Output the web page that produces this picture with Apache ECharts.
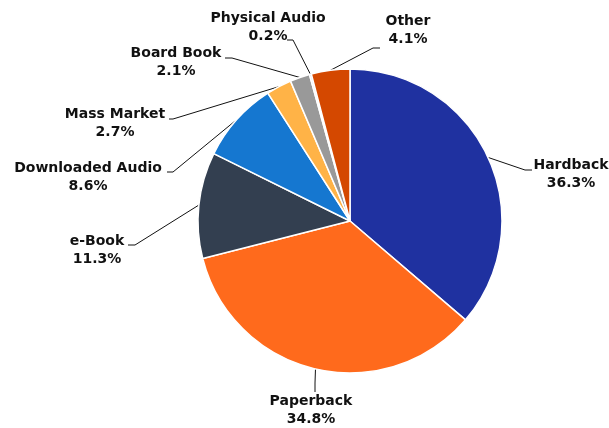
<!DOCTYPE html>
<html><head><meta charset="utf-8">
<script src="https://cdn.jsdelivr.net/npm/echarts@6/dist/echarts.min.js"></script>
<style>html,body{margin:0;padding:0;background:#fff}#c{width:609px;height:428px}</style>
</head><body><div id="c"></div>
<script>
const categories = ["Hardback","Paperback","e-Book","Downloaded Audio","Mass Market","Board Book","Physical Audio","Other"];
const values = [36.3,34.8,11.3,8.6,2.7,2.1,0.2,4.1];
const colors = ["#1f31a0","#ff6a1c","#333f50","#1577d0","#ffb347","#999999","#c9d6f0","#d44800"];
// label layout: [textCenterX, textCenterY, elbowX, elbowY, endX, endY]
const labelLayoutPos = [
  [571,174, 525,170, 532,170],
  [311,410, 315,383, 315,392],
  [97,250, 135,245, 128,245],
  [88,177, 173,172, 167,172],
  [115,123, 173,119, 169,119],
  [176,62, 232,58, 225,58],
  [268,27, 293,40, 287,40],
  [408,30, 373,48, 380,48]
];
const chart = echarts.init(document.getElementById('c'));
chart.setOption({
  animation:false,
  series:[{
    type:'pie',
    center:[350,221],
    radius:[0,152],
    startAngle:90,
    clockwise:true,
    avoidLabelOverlap:false,
    itemStyle:{borderColor:'#fff',borderWidth:1.5},
    label:{
      show:true,
      formatter:p=>'{a|'+p.name+'}\n{a|'+p.value.toFixed(1)+'%}',
      rich:{a:{align:'center',fontFamily:'DejaVu Sans',fontWeight:'bold',fontSize:14,lineHeight:18,color:'#111'}},
      color:'#111'
    },
    labelLine:{show:true,length:20,length2:10,lineStyle:{color:'#111',width:1}},
    labelLayout:function(params){
      const L = labelLayoutPos[params.dataIndex];
      const p0 = params.labelLinePoints ? params.labelLinePoints[0] : [L[2],L[3]];
      return {x:L[0],y:L[1],align:'center',verticalAlign:'middle',
        labelLinePoints:[p0,[L[2],L[3]],[L[4],L[5]]]};
    },
    data:categories.map((c,i)=>({name:c,value:values[i],itemStyle:{color:colors[i]}}))
  }]
});
</script></body></html>
